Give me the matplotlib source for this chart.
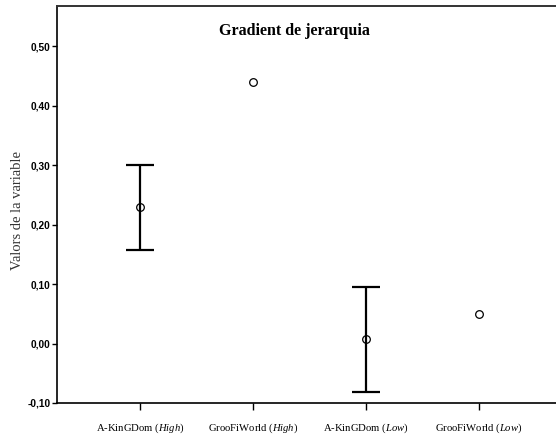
import numpy as np
import matplotlib
matplotlib.use("Agg")
import matplotlib.pyplot as plt
from matplotlib.ticker import FuncFormatter

# Data
groups = ["A-KinGDom", "GrooFiWorld", "A-KinGDom", "GrooFiWorld"]
levels = ["High", "High", "Low", "Low"]
means = [0.23, 0.44, 0.007, 0.05]
ci_low = [0.158, None, -0.082, None]
ci_high = [0.301, None, 0.095, None]
y_ticks = [-0.10, 0.00, 0.10, 0.20, 0.30, 0.40, 0.50]

plt.rcParams["mathtext.fontset"] = "custom"
plt.rcParams["mathtext.rm"] = "Liberation Serif"
plt.rcParams["mathtext.it"] = "Liberation Serif:italic"

W, H = 556, 441
fig = plt.figure(figsize=(W / 100, H / 100), dpi=100)
ax = fig.add_axes([57 / W, 38 / H, 505 / W, 397 / H])

x = np.arange(len(means))

# Error bars where an interval exists
for xi, m, lo, hi in zip(x, means, ci_low, ci_high):
    if lo is None:
        continue
    ax.errorbar([xi], [m], yerr=[[m - lo], [hi - m]], fmt="none",
                ecolor="black", elinewidth=1.6, capsize=10, capthick=1.6,
                zorder=2)

ax.plot(x, means, linestyle="none", marker="o", markersize=5.5,
        markerfacecolor="none", markeredgecolor="black",
        markeredgewidth=0.9, zorder=3)

ax.set_xlim(-0.735, 3.735)
ax.set_ylim(-0.10, 0.568)

ax.set_yticks(y_ticks)
ax.yaxis.set_major_formatter(FuncFormatter(lambda v, p: f"{v:.2f}".replace(".", ",")))
for lab in ax.get_yticklabels():
    lab.set_fontfamily("Liberation Sans")
    lab.set_fontweight("bold")
    lab.set_fontsize(7.3)

ax.set_xticks(x)
ax.set_xticklabels([f"{g} ($\\mathit{{{l}}}$)" for g, l in zip(groups, levels)],
                   fontfamily="Liberation Serif", fontsize=7.7)

ax.tick_params(axis="y", direction="out", length=3.5, width=1, pad=1)
ax.tick_params(axis="x", direction="out", length=5, width=1, pad=8)

for side in ["left", "bottom"]:
    ax.spines[side].set_linewidth(1.2)
    ax.spines[side].set_color("black")
ax.spines["top"].set_linewidth(1.4)
ax.spines["top"].set_color("#333333")
ax.spines["right"].set_visible(False)

fig.text(294 / W, 1 - 31 / H, "Gradient de jerarquia", ha="center", va="center",
         fontfamily="Liberation Serif", fontweight="bold", fontsize=11.5)
fig.text(18 / W, 1 - 210 / H, "Valors de la variable", ha="center", va="center",
         rotation=90, fontfamily="Liberation Serif", fontsize=10.5, color="#333333")

fig.savefig("out.png", dpi=100)
